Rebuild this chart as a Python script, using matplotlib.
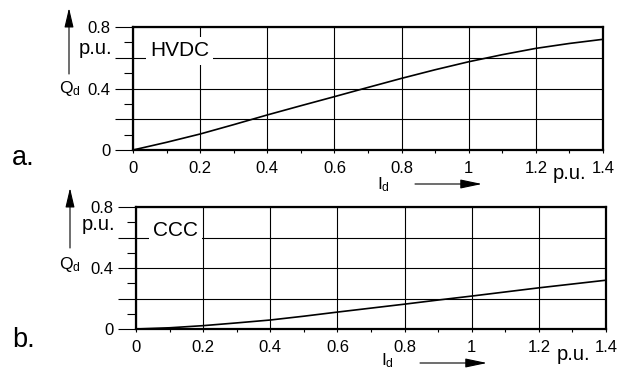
# -*- coding: utf-8 -*-
'''
Reactive power Qd vs. direct current Id for HVDC and CCC
'''

from matplotlib import pyplot as plt
from matplotlib.ticker import MultipleLocator, FixedFormatter, FixedLocator
import matplotlib

matplotlib.rcParams['font.family'] = 'Liberation Sans'
matplotlib.rcParams['mathtext.fontset'] = 'custom'
matplotlib.rcParams['mathtext.rm'] = 'Liberation Sans'
matplotlib.rcParams['mathtext.it'] = 'Liberation Sans:italic'

#%% Inputs
i_d = [0, 0.1, 0.2, 0.3, 0.4, 0.5, 0.6, 0.7, 0.8, 0.9, 1.0, 1.1, 1.2, 1.3, 1.4]
q_hvdc = [0, 0.05, 0.104, 0.165, 0.228, 0.288, 0.347, 0.407, 0.466, 0.522, 0.574, 0.62, 0.661, 0.693, 0.72]
q_ccc = [0, 0.008, 0.022, 0.04, 0.059, 0.084, 0.111, 0.137, 0.163, 0.19, 0.216, 0.243, 0.27, 0.295, 0.32]

x_ticks = [0, 0.2, 0.4, 0.6, 0.8, 1.0, 1.2, 1.4]
x_ticklabels = ['0', '0.2', '0.4', '0.6', '0.8', '1', '1.2', '1.4']
y_ticks = [0, 0.2, 0.4, 0.6, 0.8]
y_ticklabels = ['0', '', '0.4', '', '0.8']

panels = [('a.', 'HVDC', q_hvdc), ('b.', 'CCC', q_ccc)]

# layout (figure fractions)
ax_rects = [[0.2111, 0.5957, 0.7460, 0.3315],
            [0.2159, 0.1132, 0.7460, 0.3288]]
W, H = 630, 371


def fx(px):
    return px / W


def fy(py):
    return 1 - py / H


#%% Plot
fig = plt.figure(figsize=(6.3, 3.71), dpi=100)

for k, (letter, name, q) in enumerate(panels):
    ax = fig.add_axes(ax_rects[k])
    ax.plot(i_d, q, color='k', lw=1.2, zorder=3)
    ax.set_xlim(0, 1.4)
    ax.set_ylim(0, 0.8)
    ax.xaxis.set_major_locator(FixedLocator(x_ticks))
    ax.xaxis.set_major_formatter(FixedFormatter(x_ticklabels))
    ax.xaxis.set_minor_locator(MultipleLocator(0.1))
    ax.yaxis.set_major_locator(FixedLocator(y_ticks))
    ax.yaxis.set_major_formatter(FixedFormatter(y_ticklabels))
    ax.yaxis.set_minor_locator(MultipleLocator(0.1))
    ax.tick_params(axis='x', which='both', direction='out', length=2.5, width=0.8,
                   labelsize=12, pad=5.5)
    ax.tick_params(axis='y', which='major', direction='out', length=13, width=0.8,
                   labelsize=12, pad=3)
    ax.tick_params(axis='y', which='minor', direction='out', length=6.5, width=0.8)
    ax.grid(True, which='major', color='k', lw=0.8)
    for sp in ax.spines.values():
        sp.set_linewidth(1.6)
    ax.text(0.05, 0.645, name, fontsize=15, ha='left', va='center', zorder=4,
            bbox=dict(boxstyle='square,pad=0.2', fc='white', ec='none'))

# labels and arrows placed in figure pixels
letter_pos = [(12, 165), (12, 347)]
ypu_pos = [(112, 48), (115, 224)]
qd_pos = [(59, 88), (59, 265)]
xpu_pos = [(570, 174), (573, 354)]
id_pos = [(377, 185), (381, 361)]
varrow = [((69, 74), (69, 8)), ((70, 248), (70, 188))]
harrow = [((415, 184), (482, 184)), ((420, 363), (487, 363))]

for k, (letter, name, q) in enumerate(panels):
    fig.text(fx(letter_pos[k][0]), fy(letter_pos[k][1]), letter, fontsize=19.5,
             ha='left', va='baseline')
    fig.text(fx(ypu_pos[k][0]), fy(ypu_pos[k][1]), 'p.u.', fontsize=14.5,
             ha='right', va='center')
    fig.text(fx(qd_pos[k][0]), fy(qd_pos[k][1]), r'Q$_\mathrm{d}$', fontsize=12.5,
             ha='left', va='center')
    fig.text(fx(xpu_pos[k][0]), fy(xpu_pos[k][1]), 'p.u.', fontsize=14.5,
             ha='center', va='center')
    fig.text(fx(id_pos[k][0]), fy(id_pos[k][1]), r'I$_\mathrm{d}$', fontsize=12.5,
             ha='left', va='center')
    for (p0, p1), hl in ((varrow[k], 0.85), (harrow[k], 0.95)):
        fig.patches.append(matplotlib.patches.FancyArrowPatch(
            (fx(p0[0]), fy(p0[1])), (fx(p1[0]), fy(p1[1])),
            transform=fig.transFigure, arrowstyle=f'-|>,head_length={hl},head_width=0.2',
            mutation_scale=14, lw=0.8, color='k', shrinkA=0, shrinkB=0))

plt.savefig('out.png', dpi=100)
plt.close()
